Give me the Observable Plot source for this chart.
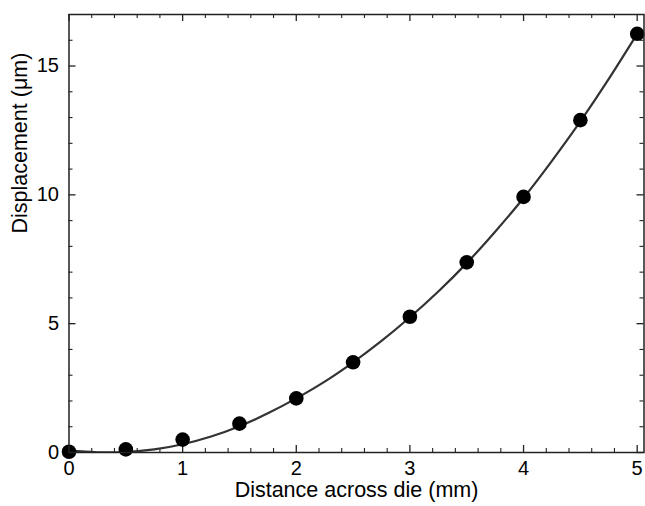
<!DOCTYPE html>
<html>
<head>
<meta charset="utf-8">
<script src="https://cdn.jsdelivr.net/npm/d3@7"></script>
<script src="https://cdn.jsdelivr.net/npm/@observablehq/plot@0.6"></script>
<style>
  html, body { margin: 0; padding: 0; background: #fff; }
  #chart svg { display: block; }
</style>
</head>
<body>
<div id="chart"></div>
<script>
// Measured points
const distance = [0, 0.5, 1, 1.5, 2, 2.5, 3, 3.5, 4, 4.5, 5];
const displacement = [0.03, 0.12, 0.5, 1.12, 2.1, 3.5, 5.27, 7.38, 9.92, 12.9, 16.25];

// Fitted curve
const fitDistance = [0, 0.25, 0.5, 0.75, 1, 1.25, 1.5, 1.75, 2, 2.25, 2.5, 2.75, 3, 3.25, 3.5, 3.75, 4, 4.25, 4.5, 4.75, 5];
const fitDisplacement = [0.08, 0.01, 0.02, 0.12, 0.32, 0.62, 1.02, 1.52, 2.1, 2.75, 3.5, 4.33, 5.25, 6.25, 7.35, 8.57, 9.88, 11.32, 12.85, 14.5, 16.25];

// Ticks
const xMajor = [0, 1, 2, 3, 4, 5];
const xMinor = [0.2, 0.4, 0.6, 0.8, 1.2, 1.4, 1.6, 1.8, 2.2, 2.4, 2.6, 2.8, 3.2, 3.4, 3.6, 3.8, 4.2, 4.4, 4.6, 4.8];
const yMajor = [0, 5, 10, 15];
const yMinor = [1, 2, 3, 4, 6, 7, 8, 9, 11, 12, 13, 14, 16];

const xTitle = "Distance across die (mm)";
const yTitle = "Displacement (\u03bcm)";

const points = distance.map((d, i) => ({x: d, y: displacement[i]}));
const fit = fitDistance.map((d, i) => ({x: d, y: fitDisplacement[i]}));

const W = 645, H = 506;
const mt = 14, mb = 54, ml = 68.5, mr = 1.5;
const ph = H - mt - mb, pw = W - ml - mr;
const major = 7, minor = 4;
const tickStroke = "#222";
const fmt = d => String(d);

const chart = Plot.plot({
  width: W,
  height: H,
  marginTop: mt,
  marginBottom: mb,
  marginLeft: ml,
  marginRight: mr,
  style: {fontFamily: "'Liberation Sans', Arial, sans-serif", color: "#000", background: "#fff"},
  x: {domain: [0, 5.06]},
  y: {domain: [0, 17]},
  marks: [
    Plot.axisX(xMajor, {anchor: "bottom", tickSize: 0, tickPadding: 8, fontSize: 20, tickFormat: fmt, label: null}),
    Plot.axisY(yMajor, {anchor: "left", tickSize: 0, tickPadding: 10, fontSize: 20, tickFormat: fmt, label: null}),
    // inward ticks - bottom & top
    Plot.tickX(xMajor, {x: d => d, insetTop: ph - major, stroke: tickStroke, strokeWidth: 1.3}),
    Plot.tickX(xMajor, {x: d => d, insetBottom: ph - major, stroke: tickStroke, strokeWidth: 1.3}),
    Plot.tickX(xMinor, {x: d => d, insetTop: ph - minor, stroke: tickStroke, strokeWidth: 1.1}),
    Plot.tickX(xMinor, {x: d => d, insetBottom: ph - minor, stroke: tickStroke, strokeWidth: 1.1}),
    // inward ticks - left & right
    Plot.tickY(yMajor, {y: d => d, insetRight: pw - major, stroke: tickStroke, strokeWidth: 1.3}),
    Plot.tickY(yMajor, {y: d => d, insetLeft: pw - major, stroke: tickStroke, strokeWidth: 1.3}),
    Plot.tickY(yMinor, {y: d => d, insetRight: pw - minor, stroke: tickStroke, strokeWidth: 1.1}),
    Plot.tickY(yMinor, {y: d => d, insetLeft: pw - minor, stroke: tickStroke, strokeWidth: 1.1}),
    Plot.line(fit, {x: "x", y: "y", curve: "natural", stroke: "#333", strokeWidth: 2.2, clip: true}),
    Plot.dot(points, {x: "x", y: "y", r: 7.3, fill: "#000", stroke: "none"}),
    Plot.frame({stroke: "#222", strokeWidth: 1.5}),
    Plot.text([xTitle], {text: d => d, frameAnchor: "bottom", dy: 44, fontSize: 21.5, fill: "#000"}),
    Plot.text([yTitle], {text: d => d, frameAnchor: "left", dx: -49, rotate: -90, fontSize: 21.5, fill: "#000"})
  ]
});
document.getElementById("chart").appendChild(chart);
</script>
</body>
</html>
